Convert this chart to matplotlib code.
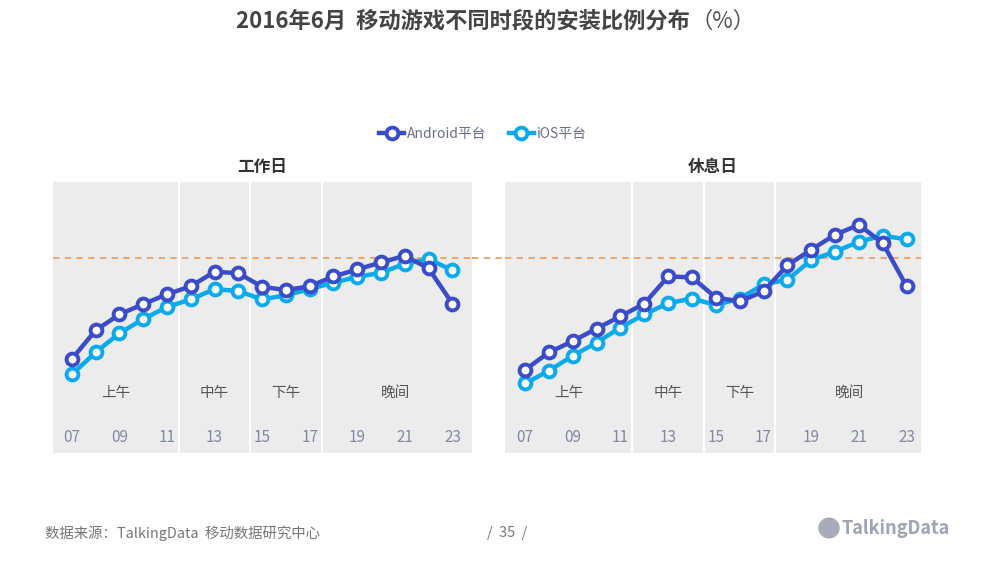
import numpy as np
import matplotlib
matplotlib.use("Agg")
import matplotlib.pyplot as plt
from matplotlib.patches import Ellipse

plt.rcParams['font.family'] = ['Noto Sans CJK SC', 'DejaVu Sans']

hours = np.arange(7, 24)
hour_labels = ["07", "09", "11", "13", "15", "17", "19", "21", "23"]

# 工作日
workday_android = [2.01, 2.62, 2.96, 3.18, 3.39, 3.56, 3.87, 3.84, 3.55, 3.48,
                   3.56, 3.77, 3.92, 4.07, 4.21, 3.94, 3.19]
workday_ios = [1.68, 2.15, 2.56, 2.86, 3.12, 3.28, 3.50, 3.46, 3.28, 3.37,
               3.50, 3.64, 3.76, 3.85, 4.04, 4.14, 3.90]
# 休息日
weekend_android = [1.78, 2.15, 2.39, 2.66, 2.92, 3.19, 3.77, 3.75, 3.32, 3.24,
                   3.45, 4.01, 4.34, 4.66, 4.87, 4.48, 3.56]
weekend_ios = [1.49, 1.76, 2.08, 2.36, 2.68, 2.96, 3.20, 3.30, 3.16, 3.30,
               3.60, 3.70, 4.12, 4.30, 4.51, 4.64, 4.56]

avg_line = 100 / 24  # 平均值
periods = ["上午", "中午", "下午", "晚间"]
period_pos = [8.85, 13.0, 16.0, 20.6]
period_bounds = [11.5, 14.5, 17.5]

c_android = "#3a4cc9"
c_ios = "#0aaaec"
bg = "#ececec"

fig = plt.figure(figsize=(10, 5.78), dpi=100)

ymax = 5.79
ax1 = fig.add_axes([0.053, 1 - 453.3 / 578, 0.4187, 271.6 / 578])
ax2 = fig.add_axes([0.505, 1 - 453.3 / 578, 0.4157, 271.6 / 578])

panels = [(ax1, workday_android, workday_ios, "工作日", (6.21, 23.81)),
          (ax2, weekend_android, weekend_ios, "休息日", (6.16, 23.59))]

for ax, a, i, title, xl in panels:
    ax.set_facecolor(bg)
    ax.set_xlim(*xl)
    ax.set_ylim(0, ymax)
    for s in ax.spines.values():
        s.set_visible(False)
    ax.set_xticks([])
    ax.set_yticks([])
    for b in period_bounds:
        ax.axvline(b, color="white", lw=1.4, zorder=1)
    ax.axhline(avg_line, color="#f0a060", lw=1.3, ls=(0, (3.5, 3)), zorder=2)
    ax.plot(hours, a, color=c_android, lw=3.2, marker="o", ms=8.5,
            mfc="white", mec=c_android, mew=2.8, zorder=4, label="Android平台")
    ax.plot(hours, i, color=c_ios, lw=3.2, marker="o", ms=8.5,
            mfc="white", mec=c_ios, mew=2.8, zorder=3, label="iOS平台")
    for p, x in zip(periods, period_pos):
        ax.text(x, 0.222, p, transform=ax.get_xaxis_transform(), ha="center",
                va="center", fontsize=10.5, color="#555555")
    for lbl in hour_labels:
        ax.text(int(lbl), 0.06, lbl, transform=ax.get_xaxis_transform(),
                ha="center", va="center", fontsize=11, color="#8088a4")
    ax.set_title(title, fontsize=12, fontweight="bold", color="#333333", pad=7)

# dashed line across the gap
ax1.axhline(avg_line, xmin=1.0, xmax=(920 - 53) / 418.7, color="#f0a060",
            lw=1.3, ls=(0, (3.5, 3)), clip_on=False, zorder=2)

handles, labels = ax1.get_legend_handles_labels()
fig.legend(handles, labels, loc="center", bbox_to_anchor=(0.483, 1 - 134 / 578),
           ncol=2, frameon=False, fontsize=10, labelcolor="#6b6f8a",
           handlelength=1.8, columnspacing=1.6, handletextpad=0.2)

fig.text(0.69, 1 - 21 / 578, "2016年6月  移动游戏不同时段的安装比例分布", ha="right",
         va="center", fontsize=16, fontweight="bold", color="#444444")
fig.text(0.69, 1 - 21 / 578, "（%）", ha="left", va="center", fontsize=16,
         color="#555555")

fig.text(0.045, 1 - 533 / 578, "数据来源：TalkingData  移动数据研究中心",
         ha="left", va="center", fontsize=10.4, color="#777777")
fig.text(0.507, 1 - 533 / 578, "/  35  /", ha="center", va="center",
         fontsize=10.4, color="#777777")
fig.patches.append(Ellipse((0.829, 1 - 528 / 578), 0.02, 0.034,
                           transform=fig.transFigure, color="#a8acb8"))
fig.text(0.841, 1 - 529 / 578, "TalkingData", ha="left", va="center",
         fontsize=13, fontweight="bold", color="#a0a4b2")

fig.savefig("out.png", dpi=100)
